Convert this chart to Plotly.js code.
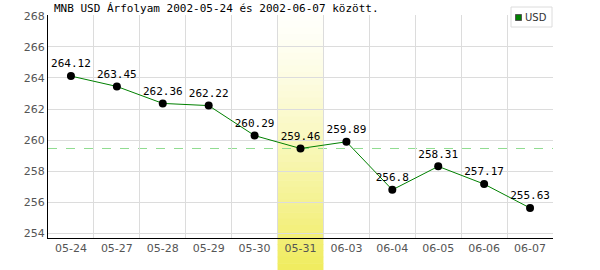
<!DOCTYPE html>
<html><head><meta charset="utf-8">
<script src="https://cdn.plot.ly/plotly-3.0.1.min.js"></script>
<style>body{margin:0;padding:0;background:#fff}#c{width:600px;height:270px}</style>
</head><body><div id="c"></div>
<script>
const dates = ["05-24","05-27","05-28","05-29","05-30","05-31","06-03","06-04","06-05","06-06","06-07"];
const rates = [264.12,263.45,262.36,262.22,260.29,259.46,259.89,256.8,258.31,257.17,255.63];
const labels = ["264.12","263.45","262.36","262.22","260.29","259.46","259.89","256.8","258.31","257.17","255.63"];
const highlightIndex = 5;
const refLevel = 259.46;
const seriesName = "USD";
const yTicks = [254,256,258,260,262,264,266,268];
const titleText = "MNB USD Árfolyam 2002-05-24 és 2002-06-07 között.";

const W = 600, H = 270, mL = 48, mR = 47, mT = 15, mB = 32;
const plotH = H - mT - mB, plotW = W - mL - mR;
const px = v => (v - mL) / plotW;          // pixel x -> paper
const py = v => (H - mB - v) / plotH;      // pixel y -> paper

const shapes = [];
const nBands = 40;
const colTop = [255,255,250], colBot = [240,236,96];
const y0p = -mB / plotH;
for (let i = 0; i < nBands; i++) {
  const f = i / (nBands - 1);
  const c = colTop.map((t, k) => Math.round(t + (colBot[k] - t) * Math.pow(f, 1.3)));
  const ya = 1 - (1 - y0p) * i / nBands;
  const yb = 1 - (1 - y0p) * (i + 1) / nBands;
  shapes.push({type:'rect', xref:'x', yref:'paper', x0:highlightIndex-0.5, x1:highlightIndex+0.5,
    y0:yb, y1:ya + 0.002, fillcolor:`rgb(${c[0]},${c[1]},${c[2]})`, line:{width:0}, layer:'between'});
}
shapes.push({type:'line', xref:'paper', yref:'y', x0:0, x1:1, y0:refLevel, y1:refLevel,
  line:{color:'#90dc90', width:1, dash:'dash'}, layer:'between'});
// legend box
shapes.push({type:'rect', xref:'paper', yref:'paper', x0:px(511), x1:px(552), y0:py(27), y1:py(7),
  fillcolor:'#fff', line:{color:'#dcdcdc', width:1}, layer:'above'});
shapes.push({type:'rect', xref:'paper', yref:'paper', x0:px(515.5), x1:px(521.5), y0:py(20.5), y1:py(14.5),
  fillcolor:'#008000', line:{color:'#555', width:1}, layer:'above'});

const traces = [
  {x: dates, y: rates, text: labels, mode:'lines+markers+text', textposition:'top center', name: seriesName,
   textfont:{family:'DejaVu Sans Mono', size:11, color:'#000'},
   line:{color:'#008000', width:1}, marker:{color:'#000', size:8}, showlegend:false, cliponaxis:false}
];

const layout = {
  width:W, height:H, margin:{l:mL, r:mR, t:mT, b:mB},
  paper_bgcolor:'#fff', plot_bgcolor:'#fff',
  font:{family:'DejaVu Sans', size:11, color:'#555'},
  xaxis:{type:'category', tickson:'boundaries', showgrid:true, gridcolor:'#dcdcdc', gridwidth:1,
    ticks:'', showline:true, linecolor:'#000', linewidth:1, range:[-0.5,10.5], fixedrange:true,
    tickfont:{family:'DejaVu Sans', size:11, color:'#555'}},
  yaxis:{range:[253.7,268.05], tickvals:yTicks, ticktext:yTicks.map(String), showgrid:true, gridcolor:'#dcdcdc',
    zeroline:false, showline:true, linecolor:'#000', linewidth:1, ticks:'',
    tickfont:{family:'DejaVu Sans', size:11, color:'#555'}},
  shapes: shapes,
  showlegend:false,
  annotations:[
    {text:titleText, xref:'paper', yref:'paper', x:0.008, y:1, xanchor:'left', yanchor:'bottom',
     showarrow:false, font:{family:'DejaVu Sans Mono', size:11, color:'#000'}, yshift:-2},
    {text:seriesName, xref:'paper', yref:'paper', x:px(523), y:py(17.5), xanchor:'left', yanchor:'middle',
     showarrow:false, font:{family:'DejaVu Sans', size:10, color:'#333'}}
  ]
};
Plotly.newPlot('c', traces, layout, {displayModeBar:false, staticPlot:true});
</script></body></html>
